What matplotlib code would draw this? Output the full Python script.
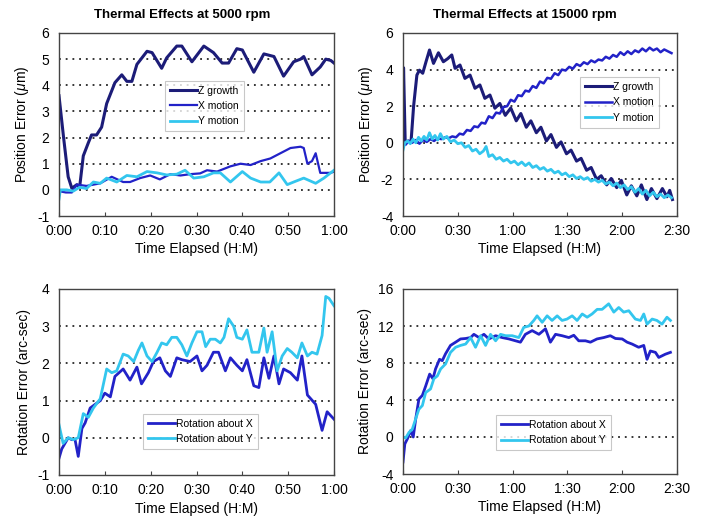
import matplotlib
matplotlib.use("Agg")
import matplotlib.pyplot as plt

plt.rcParams['font.family'] = ['Liberation Sans', 'DejaVu Sans']
plt.rcParams['mathtext.fontset'] = 'custom'
plt.rcParams['mathtext.rm'] = 'Liberation Sans'
plt.rcParams['mathtext.it'] = 'Liberation Sans:italic'
plt.rcParams['axes.unicode_minus'] = False

# ---------------- data (time in minutes) ----------------
z5_t = [0, 1, 2, 2.8, 3.9, 4.5, 5.3, 6.4, 7.1, 8.2, 9.3, 10.4, 12.2, 13.7, 14.8, 15.9, 17, 19.2, 20.3,
        22.4, 23.5, 25.7, 26.8, 29, 31.6, 33.7, 35.6, 37, 38.8, 40, 42.5, 44.7, 46.9, 49, 51.2, 52.7,
        53.4, 55.2, 57, 58.2, 59.3, 60]
z5_v = [3.6, 2.0, 0.5, 0.06, 0.2, 0.1, 1.3, 1.8, 2.1, 2.1, 2.4, 3.3, 4.1, 4.4, 4.15, 4.15, 4.8, 5.3, 5.25,
        4.65, 5.05, 5.5, 5.5, 4.9, 5.5, 5.25, 4.85, 4.85, 5.4, 5.35, 4.5, 5.2, 5.1, 4.35, 4.9, 5.0,
        5.1, 4.4, 4.7, 5.0, 4.95, 4.85]

x5_t = [0, 1.5, 2.8, 3.9, 6, 9, 11.5, 14, 15.5, 17.7, 19.9, 22, 24.3, 26.5, 28.6, 30.8, 32.3, 34.5,
        37.4, 39.6, 41.8, 44, 46.1, 48.3, 50.5, 52.7, 53.4, 54.2, 55.2, 56, 57, 59.3, 60]
x5_v = [-0.05, -0.1, -0.1, 0.2, 0.15, 0.25, 0.5, 0.3, 0.3, 0.45, 0.55, 0.4, 0.6, 0.55, 0.6, 0.63, 0.75,
        0.7, 0.9, 1.0, 0.95, 1.1, 1.2, 1.4, 1.6, 1.65, 1.6, 1.0, 1.1, 1.4, 0.65, 0.65, 0.7]

y5_t = [0, 0.3, 1.7, 3.1, 4.5, 6, 7.5, 9, 10.4, 12.6, 14.8, 17, 19.2, 21.4, 23.5, 25.7, 27.5, 29.4,
        31.6, 33.7, 35.2, 37.4, 40, 41.8, 44, 46, 48, 49.8, 51.2, 53.4, 56, 57.8, 60]
y5_v = [-0.35, 0.0, 0.0, -0.05, 0.1, 0.05, 0.3, 0.25, 0.45, 0.3, 0.55, 0.5, 0.7, 0.65, 0.57, 0.6, 0.75,
        0.45, 0.5, 0.65, 0.65, 0.3, 0.7, 0.45, 0.3, 0.3, 0.65, 0.2, 0.3, 0.45, 0.25, 0.45, 0.75]

z15_t = [0, 0.3, 1.2, 3, 4.4, 5.8, 7.6, 9.0, 10.8, 12.6, 14.5, 16.7, 19.4, 22.1, 24.5, 26.7, 28.5, 31.2,
         33.9, 36.7, 39.4, 42.1, 44.8, 47.6, 50.3, 53, 56, 59, 62, 64.5, 67.5, 70, 73, 75.5, 78.5, 81,
         84, 86.5, 89.5, 92, 95, 97.5, 100.5, 103, 106, 108.5, 111.5, 114, 117, 119.5, 122.5, 125, 128,
         130.5, 133.5, 136, 139, 142, 144.5, 146, 147.5]
z15_v = [0.0, 4.1, 0.05, 0.1, 0.05, 2.0, 3.7, 3.97, 3.8, 4.43, 5.07, 4.34, 4.92, 4.43, 4.6, 4.8, 4.07, 4.25,
         3.52, 3.7, 2.98, 3.16, 2.43, 2.61, 1.89, 2.15, 1.5, 1.9, 1.2, 1.6, 0.85, 1.2, 0.55, 0.85, 0.1, 0.45,
         -0.25, 0.05, -0.6, -0.4, -1.0, -0.85, -1.5, -1.35, -2.0, -1.8, -2.3, -1.95, -2.45, -2.05, -2.85,
         -2.35, -2.9, -2.3, -3.1, -2.5, -3.05, -2.5, -2.95, -2.6, -3.1]

x15_t = [0, 1.5, 3, 5, 7, 9, 11, 13, 15, 17, 19, 21, 23, 25, 27, 29, 31, 33, 35, 37, 39, 41, 43, 45,
         47, 49, 51, 53, 55, 57, 59, 61, 63, 65, 67, 69, 71, 73, 75, 77, 79, 81, 83, 85, 87, 89, 91, 93,
         95, 97, 99, 101, 103, 105, 107, 109, 111, 113, 115, 117, 119, 121, 123, 125, 127, 129, 131,
         133, 135, 137, 139, 141, 143, 145, 147]
x15_v = [0.0, -0.1, 0.1, 0.0, 0.15, -0.05, 0.15, 0.05, 0.2, 0.1, 0.25, 0.2, 0.3, 0.25, 0.35, 0.3, 0.5,
         0.45, 0.7, 0.65, 0.9, 0.85, 1.1, 1.05, 1.45, 1.35, 1.65, 1.6, 1.95, 2.0, 2.35, 2.25, 2.6, 2.55,
         2.85, 2.8, 3.1, 3.0, 3.35, 3.25, 3.55, 3.5, 3.8, 3.7, 4.0, 3.95, 4.15, 4.05, 4.3, 4.2, 4.4, 4.3,
         4.5, 4.4, 4.55, 4.5, 4.7, 4.6, 4.8, 4.7, 4.95, 4.8, 5.0, 4.85, 5.05, 4.95, 5.15, 5.0, 5.2, 5.05,
         5.15, 4.95, 5.1, 5.0, 4.9]

y15_t = [0, 1, 2.5, 4, 5.5, 7, 8.5, 10, 11.5, 13, 14.5, 16, 17.5, 19, 20.5, 22, 24, 26, 28, 30, 32, 34,
         36, 38, 40, 42, 44, 45.5, 47, 49, 51, 53, 55, 57, 59, 61, 63, 65, 67, 69, 71, 73, 75, 77, 79, 81,
         83, 85, 87, 89, 91, 93, 95, 97, 99, 101, 103, 105, 107, 109, 111, 113, 115, 117, 119, 121, 123,
         125, 127, 129, 131, 133, 135, 137, 139, 141, 143, 145, 147]
y15_v = [-0.4, 0.0, 0.1, -0.05, 0.2, 0.0, 0.3, 0.1, 0.35, 0.15, 0.55, 0.2, 0.4, 0.15, 0.5, 0.2, 0.35, 0.05,
         0.15, -0.05, 0.0, -0.25, -0.15, -0.45, -0.35, -0.6, -0.45, -0.2, -0.75, -0.65, -0.9, -0.8, -1.0,
         -0.9, -1.1, -1.0, -1.2, -1.05, -1.25, -1.1, -1.35, -1.25, -1.45, -1.35, -1.55, -1.45, -1.65, -1.55,
         -1.75, -1.65, -1.85, -1.75, -1.95, -1.85, -2.0, -1.9, -2.1, -2.0, -2.15, -2.05, -2.25, -2.15,
         -2.35, -2.2, -2.45, -2.3, -2.55, -2.4, -2.7, -2.5, -2.8, -2.6, -2.9, -2.7, -2.95, -2.8, -3.0,
         -2.85, -3.0]

rx5_t = [0, 0.6, 1.3, 2, 2.8, 3.5, 4.2, 5, 5.7, 6.8, 7.9, 9, 10, 11.2, 12.2, 14, 15.5, 17, 18, 19.5,
         20.6, 22, 23.2, 24.3, 25.7, 26.8, 28.6, 30.1, 31.2, 32.3, 33.7, 34.8, 36.3, 37.4, 38.8, 40, 41,
         42.5, 43.6, 44.7, 45.8, 46.9, 48, 49, 50.5, 52, 53, 54.2, 56, 57.4, 58.5, 60]
rx5_v = [-0.55, -0.3, -0.15, 0.0, -0.05, -0.05, -0.5, 0.25, 0.4, 0.8, 0.9, 1.0, 1.2, 1.1, 1.65, 1.85,
         1.55, 1.9, 1.45, 1.75, 2.05, 2.15, 1.8, 1.65, 2.15, 2.1, 2.05, 2.2, 1.8, 1.95, 2.3, 2.3, 1.8,
         2.15, 1.95, 1.8, 2.1, 1.4, 1.35, 2.15, 1.6, 2.2, 1.45, 1.85, 1.75, 1.55, 2.2, 1.15, 0.9, 0.2,
         0.7, 0.5]

ry5_t = [0, 0.9, 2, 3.1, 4.2, 5.3, 6.4, 7.5, 9, 10.4, 11.5, 12.6, 14, 15.1, 16.3, 17.3, 18.1, 19.2,
         20.3, 21.4, 22.4, 23.5, 24.6, 25.7, 26.8, 27.9, 29, 30.1, 31.2, 32, 33, 34.1, 35.2, 36, 37, 38.1,
         38.8, 40, 41, 42.1, 43.6, 44.7, 45.4, 46.5, 47.6, 48.7, 49.8, 50.8, 52, 53, 54.2, 55.2, 56.3,
         57.4, 58.2, 58.9, 60]
ry5_v = [0.35, -0.15, 0.0, -0.05, 0.0, 0.65, 0.55, 0.8, 1.05, 1.85, 1.75, 1.8, 2.25, 2.2, 2.05, 2.35,
         2.55, 2.2, 2.05, 2.3, 2.55, 2.5, 2.7, 2.7, 2.5, 2.2, 2.55, 2.85, 2.85, 2.45, 2.65, 2.65, 2.55,
         2.7, 3.2, 3.0, 2.7, 2.65, 2.9, 2.3, 2.3, 2.95, 2.3, 2.85, 1.8, 2.2, 2.4, 2.3, 2.15, 2.55, 2.2,
         2.3, 2.25, 2.75, 3.8, 3.75, 3.55]

rx15_t = [0, 1, 2.4, 4.2, 5.6, 7, 8.7, 10.6, 12.4, 14.6, 16.4, 17.8, 20, 21.5, 23.3, 26, 28.8, 31.5,
          34.3, 37, 38.8, 41.6, 44.3, 47, 50.7, 54.3, 58, 61.6, 64.3, 67, 70.7, 74.4, 78, 80.7, 83.5,
          87.1, 90.8, 93.5, 96.2, 99.9, 102.6, 106.2, 109.9, 113.5, 116.3, 120, 122.7, 125.4, 129,
          131.8, 133.6, 135.4, 138.2, 140, 143.6, 146.4]
rx15_v = [-2.7, -0.75, -0.2, 0.7, 0.0, 2.0, 4.1, 4.5, 5.5, 6.8, 6.3, 7.35, 8.4, 8.25, 9.0, 9.9, 10.25,
          10.6, 10.65, 10.75, 11.1, 10.75, 11.1, 10.6, 10.95, 10.75, 10.6, 10.4, 10.25, 11.1, 11.5, 11.1,
          11.7, 10.25, 11.1, 10.95, 10.75, 11.0, 10.4, 10.4, 10.25, 10.6, 10.75, 10.95, 10.65, 10.6,
          10.25, 10.05, 9.7, 9.9, 8.4, 9.3, 9.15, 8.6, 8.95, 9.15]

ry15_t = [0, 1.5, 3.3, 5.1, 7, 8.7, 10.6, 12.4, 15.1, 16.9, 18.8, 20.6, 23.3, 26, 28.8, 31.5, 34.3,
          37, 39.7, 42.5, 45.2, 47.9, 50.7, 53.4, 56.2, 59.8, 63.4, 66.1, 68.9, 71.6, 73.4, 76.2, 78.9,
          81.6, 84.4, 87.1, 89.8, 92.6, 95.3, 98.1, 100.8, 103.5, 106.3, 109, 112.6, 115.4, 118.1, 120.8,
          123.6, 127.2, 130, 131.8, 133.6, 136.4, 139, 141.8, 144.5, 146.4]
ry15_v = [0.0, -0.1, 0.5, 0.85, 2.0, 3.0, 3.4, 4.8, 5.2, 6.3, 6.6, 7.35, 7.9, 9.15, 9.7, 9.9, 10.05,
          10.75, 9.7, 10.95, 9.9, 11.1, 10.4, 11.1, 10.95, 10.95, 10.75, 11.85, 12.0, 12.6, 13.1, 12.4,
          13.1, 12.6, 13.1, 12.6, 12.75, 13.1, 12.6, 13.3, 12.95, 13.3, 13.8, 13.8, 14.4, 13.5, 14.0,
          13.5, 13.65, 12.75, 12.6, 13.3, 12.2, 12.75, 12.6, 12.2, 12.95, 12.6]

ticks_60 = [0, 10, 20, 30, 40, 50, 60]
labels_60 = ["0:00", "0:10", "0:20", "0:30", "0:40", "0:50", "1:00"]
ticks_150 = [0, 30, 60, 90, 120, 150]
labels_150 = ["0:00", "0:30", "1:00", "1:30", "2:00", "2:30"]

C_Z = "#1c1c78"
C_X = "#2222c8"
C_Y = "#33c6ee"

fig = plt.figure(figsize=(7.05, 5.23), dpi=100)
W, H = 705, 523


def make_ax(x0, x1, y0, y1):
    return fig.add_axes([x0 / W, 1 - y1 / H, (x1 - x0) / W, (y1 - y0) / H])


def style(ax, xt, xl, yt, ylabel):
    ax.set_xticks(xt)
    ax.set_xticklabels(xl)
    ax.set_xlim(xt[0], xt[-1])
    ax.set_yticks(yt)
    ax.set_ylim(yt[0], yt[-1])
    for y in yt[1:-1]:
        ax.axhline(y, color="black", lw=1.1, ls=(0, (1.2, 3.2)), zorder=0)
    for s in ax.spines.values():
        s.set_color("#444444")
        s.set_linewidth(1.0)
    ax.tick_params(axis="x", direction="in", length=3, labelsize=10, pad=6, color="#444444")
    ax.tick_params(axis="y", direction="in", length=0, labelsize=10, pad=7)
    ax.set_xlabel("Time Elapsed (H:M)", fontsize=10, labelpad=3)
    ax.set_ylabel(ylabel, fontsize=10, labelpad=4)


def leg(ax, x, y):
    lg = ax.legend(loc="upper left", bbox_to_anchor=(x, y), fontsize=7.5, frameon=True,
                   fancybox=False, edgecolor="#bbbbbb", handlelength=2.6, handletextpad=0.1,
                   borderpad=0.5, labelspacing=0.5, borderaxespad=0)
    lg.get_frame().set_linewidth(0.8)


# top-left
ax1 = make_ax(59, 334, 33, 216)
ax1.plot(z5_t, z5_v, color=C_Z, lw=2.2, label="Z growth")
ax1.plot(x5_t, x5_v, color=C_X, lw=1.6, label="X motion")
ax1.plot(y5_t, y5_v, color=C_Y, lw=2.0, label="Y motion")
style(ax1, ticks_60, labels_60, [-1, 0, 1, 2, 3, 4, 5, 6], "Position Error ($\\mu$m)")
leg(ax1, 0.385, 0.74)

# top-right
ax2 = make_ax(403, 677, 33, 216)
ax2.plot(z15_t, z15_v, color=C_Z, lw=2.2, label="Z growth")
ax2.plot(x15_t, x15_v, color=C_X, lw=1.8, label="X motion")
ax2.plot(y15_t, y15_v, color=C_Y, lw=2.0, label="Y motion")
style(ax2, ticks_150, labels_150, [-4, -2, 0, 2, 4, 6], "Position Error ($\\mu$m)")
leg(ax2, 0.645, 0.76)

# bottom-left
ax3 = make_ax(59, 334, 289, 475)
ax3.plot(rx5_t, rx5_v, color=C_X, lw=2.0, label="Rotation about X")
ax3.plot(ry5_t, ry5_v, color=C_Y, lw=2.0, label="Rotation about Y")
style(ax3, ticks_60, labels_60, [-1, 0, 1, 2, 3, 4], "Rotation Error (arc-sec)")
leg(ax3, 0.304, 0.33)

# bottom-right
ax4 = make_ax(403, 677, 289, 474)
ax4.plot(rx15_t, rx15_v, color=C_X, lw=2.0, label="Rotation about X")
ax4.plot(ry15_t, ry15_v, color=C_Y, lw=2.0, label="Rotation about Y")
style(ax4, ticks_150, labels_150, [-4, 0, 4, 8, 12, 16], "Rotation Error (arc-sec)")
leg(ax4, 0.339, 0.32)

fig.text(182 / W, 1 - 15 / H, "Thermal Effects at 5000 rpm", ha="center", va="center",
         fontsize=9.5, fontweight="bold")
fig.text(525 / W, 1 - 15 / H, "Thermal Effects at 15000 rpm", ha="center", va="center",
         fontsize=9.5, fontweight="bold")

fig.savefig("out.png", dpi=100, facecolor="white")
